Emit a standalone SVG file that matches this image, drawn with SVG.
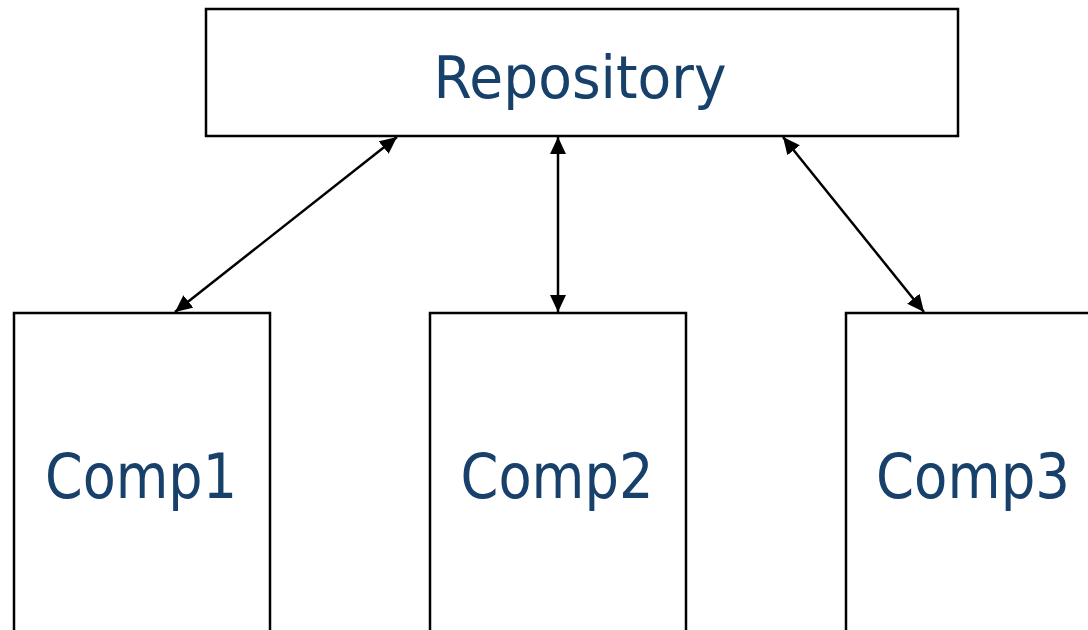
<svg xmlns="http://www.w3.org/2000/svg" width="1088" height="630" viewBox="0 0 1088 630">
  <style>
    .box { fill: #ffffff; stroke: #000000; stroke-width: 2.5; }
    .label { font-family: "DejaVu Sans", Verdana, sans-serif; fill: #17406a; text-anchor: middle; }
    .link { stroke: #000000; stroke-width: 2.5; fill: none; marker-start: url(#head); marker-end: url(#head); }
  </style>
  <defs>
    <marker id="head" markerUnits="userSpaceOnUse" markerWidth="18" markerHeight="16" refX="17" refY="8" orient="auto-start-reverse" viewBox="0 0 18 16">
      <path d="M0,0 L17,8 L0,16 Z" fill="#000000"/>
    </marker>
  </defs>
  <rect width="1088" height="630" fill="#ffffff"/>

  <g id="repository">
    <rect class="box" x="206" y="9" width="752" height="127"/>
    <text class="label" x="580" y="98" font-size="59" textLength="293" lengthAdjust="spacingAndGlyphs">Repository</text>
  </g>

  <g id="comp1">
    <rect class="box" x="14" y="313" width="256" height="330"/>
    <text class="label" x="141" y="498" font-size="63" textLength="192" lengthAdjust="spacingAndGlyphs">Comp1</text>
  </g>

  <g id="comp2">
    <rect class="box" x="430" y="313" width="256" height="330"/>
    <text class="label" x="557" y="498" font-size="63" textLength="193" lengthAdjust="spacingAndGlyphs">Comp2</text>
  </g>

  <g id="comp3">
    <rect class="box" x="846" y="313" width="256" height="330"/>
    <text class="label" x="973" y="498" font-size="63" textLength="194" lengthAdjust="spacingAndGlyphs">Comp3</text>
  </g>

  <g id="connectors">
    <line class="link" x1="397" y1="137" x2="175" y2="312"/>
    <line class="link" x1="558" y1="137" x2="558" y2="312"/>
    <line class="link" x1="783" y1="137" x2="924" y2="312"/>
  </g>
</svg>
